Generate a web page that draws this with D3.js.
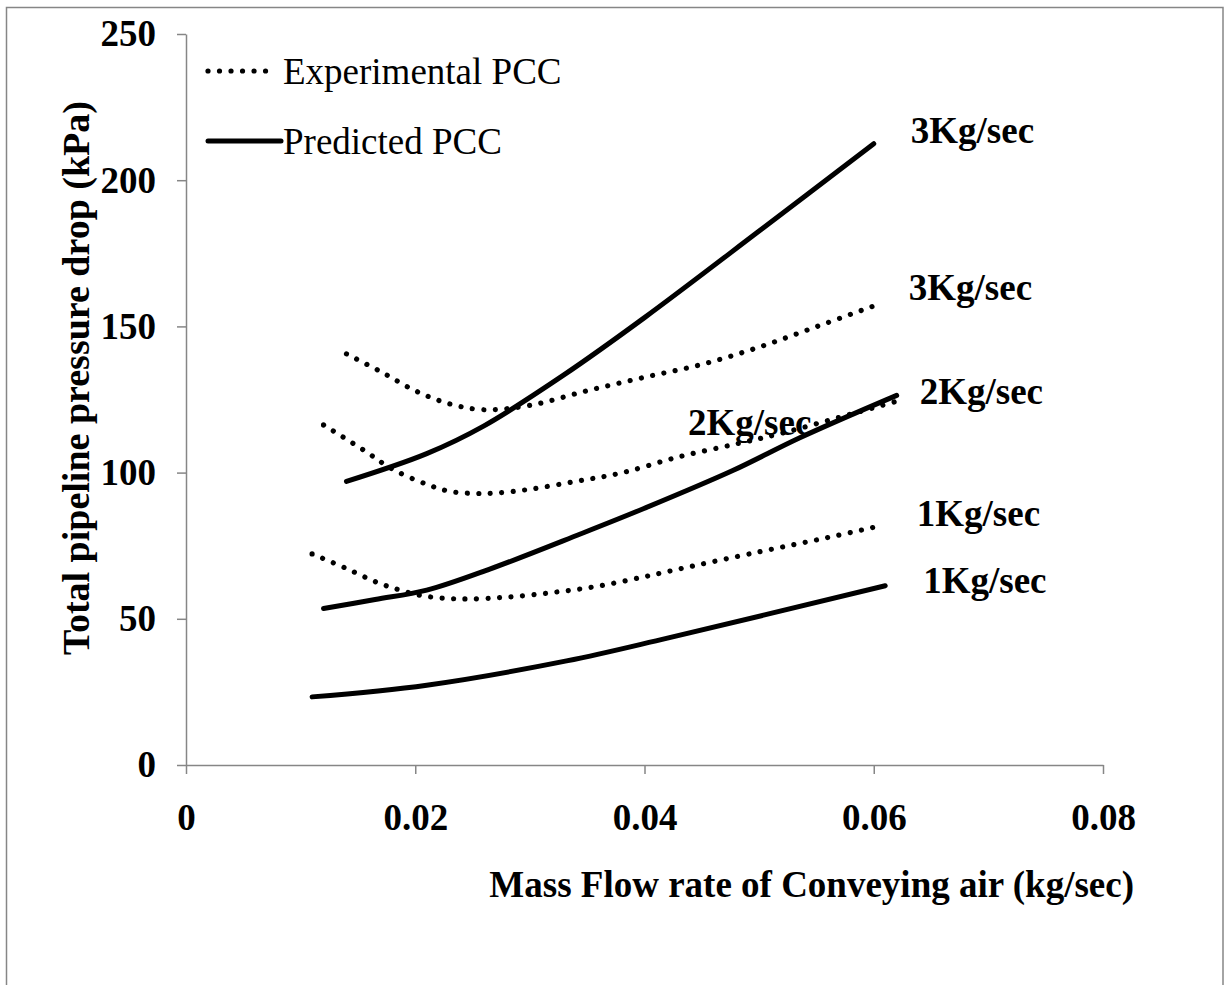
<!DOCTYPE html>
<html>
<head>
<meta charset="utf-8">
<script src="https://cdn.jsdelivr.net/npm/d3@7"></script>
<style>
  html, body { margin: 0; padding: 0; background: #fff; }
  svg { display: block; }
  text { font-family: "Times New Roman", "Liberation Serif", serif; fill: #000; }
</style>
</head>
<body>
<svg id="chart" width="1231" height="985"></svg>
<script>
// Air mass flow rate (kg/s) and total pipeline pressure drop (kPa)
// for three solids loading rates: experimental vs predicted PCC.

const exp1X = [0.011, 0.014, 0.0167, 0.0187, 0.0206, 0.0227, 0.0248, 0.028, 0.032, 0.036, 0.040, 0.0431, 0.050, 0.056, 0.060];
const exp1Y = [72.2, 67.2, 62.4, 59.8, 57.9, 57.0, 56.8, 57.4, 59.0, 61.2, 64.4, 67.1, 72.9, 77.8, 81.3];

const exp2X = [0.012, 0.0155, 0.018, 0.021, 0.023, 0.025, 0.027, 0.030, 0.034, 0.038, 0.043, 0.048, 0.052, 0.057, 0.062];
const exp2Y = [116.3, 107.7, 101.2, 96.0, 93.6, 92.9, 93.0, 94.3, 97.0, 99.9, 105.4, 109.8, 113.5, 118.9, 124.4];

const exp3X = [0.014, 0.017, 0.020, 0.023, 0.026, 0.030, 0.035, 0.040, 0.045, 0.050, 0.055, 0.060];
const exp3Y = [140.6, 134.5, 128.0, 123.5, 121.5, 123.0, 128.0, 132.6, 137.0, 142.9, 149.9, 157.0];

const pred1X = [0.011, 0.021, 0.0332, 0.042, 0.061];
const pred1Y = [23.3, 27.3, 35.6, 43.4, 61.3];

const pred2X = [0.012, 0.0165, 0.021, 0.0265, 0.0344, 0.040, 0.0477, 0.0536, 0.062];
const pred2Y = [53.5, 56.6, 59.8, 67.0, 79.0, 87.8, 100.7, 112.0, 126.4];

const pred3X = [0.014, 0.021, 0.026, 0.033, 0.040, 0.050, 0.060];
const pred3Y = [97.0, 106.5, 116.0, 133.5, 153.0, 182.6, 212.5];

const xTicks = [0, 0.02, 0.04, 0.06, 0.08];
const yTicks = [0, 50, 100, 150, 200, 250];

const legendNames = ["Experimental PCC", "Predicted PCC"];
const xTitle = "Mass Flow rate of Conveying air (kg/sec)";
const yTitle = "Total pipeline pressure drop (kPa)";

const series = [
  { name: "1Kg/sec", kind: "exp",  xs: exp1X,  ys: exp1Y },
  { name: "2Kg/sec", kind: "exp",  xs: exp2X,  ys: exp2Y },
  { name: "3Kg/sec", kind: "exp",  xs: exp3X,  ys: exp3Y },
  { name: "1Kg/sec", kind: "pred", xs: pred1X, ys: pred1Y },
  { name: "2Kg/sec", kind: "pred", xs: pred2X, ys: pred2Y },
  { name: "3Kg/sec", kind: "pred", xs: pred3X, ys: pred3Y }
];

const svg = d3.select("#chart");
const AXIS = "#868686";
const FONT = 37;

// outer frame
svg.append("rect")
  .attr("x", 6.5).attr("y", 7.5)
  .attr("width", 1216.5).attr("height", 1000)
  .attr("fill", "none").attr("stroke", AXIS).attr("stroke-width", 1.5);

const x = d3.scaleLinear().domain([0, 0.08]).range([186, 1103]);
const y = d3.scaleLinear().domain([0, 250]).range([765, 34]);

// axes
const yAxis = d3.axisLeft(y).tickValues(yTicks).tickFormat(d3.format("d"))
  .tickSize(9).tickSizeOuter(0).tickPadding(21);
const xAxis = d3.axisBottom(x).tickValues(xTicks).tickFormat(d => d === 0 ? "0" : d3.format(".2f")(d))
  .tickSize(9).tickSizeOuter(0).tickPadding(30);

const gx = svg.append("g").attr("transform", `translate(0,${y(0)})`).call(xAxis);
const gy = svg.append("g").attr("transform", `translate(${x(0)},0)`).call(yAxis);

[gx, gy].forEach(g => {
  g.select(".domain").attr("stroke", AXIS).attr("stroke-width", 1.5);
  g.selectAll(".tick line").attr("stroke", AXIS).attr("stroke-width", 1.5);
  g.selectAll(".tick text")
    .attr("fill", "#000")
    .style("font-family", '"Times New Roman", "Liberation Serif", serif')
    .style("font-size", FONT + "px")
    .style("font-weight", "bold");
});

// axis titles
svg.append("text")
  .attr("x", 1134).attr("y", 897)
  .attr("text-anchor", "end")
  .style("font-size", FONT + "px").style("font-weight", "bold")
  .text(xTitle);

svg.append("text")
  .attr("transform", `translate(89,378) rotate(-90)`)
  .attr("text-anchor", "middle")
  .style("font-size", "38px").style("font-weight", "bold")
  .text(yTitle);

// curves
const line = d3.line()
  .x(d => x(d[0])).y(d => y(d[1]))
  .curve(d3.curveCatmullRom.alpha(0.5));

const styleLine = (sel, kind) => {
  sel.attr("fill", "none").attr("stroke", "#000").attr("stroke-linecap", "round");
  if (kind === "exp") {
    sel.attr("stroke-width", 5.2).attr("stroke-dasharray", "0.01 11.5");
  } else {
    sel.attr("stroke-width", 5).attr("stroke-linejoin", "round");
  }
};

const plot = svg.append("g");
series.forEach(s => {
  const pts = s.xs.map((v, i) => [v, s.ys[i]]);
  plot.append("path").datum(pts).attr("d", line).call(styleLine, s.kind);
});

// series labels, placed beside the curve ends
const labelOffsets = [
  { idx: 0, dx: 43, dy: -1 },
  { idx: 2, dx: 35, dy: -6 },
  { idx: 3, dx: 38, dy: 7 },
  { idx: 4, dx: 23, dy: 9 },
  { idx: 5, dx: 37, dy: -1 }
];
const labels = svg.append("g")
  .style("font-size", FONT + "px").style("font-weight", "bold");
labelOffsets.forEach(o => {
  const s = series[o.idx];
  const n = s.xs.length - 1;
  labels.append("text")
    .attr("x", x(s.xs[n]) + o.dx)
    .attr("y", y(s.ys[n]) + o.dy)
    .text(s.name);
});
// label sitting on the experimental 2 kg/s curve
{
  const s = series[1];
  labels.append("text")
    .attr("x", x(0.0438))
    .attr("y", y(s.ys[10]) - 22)
    .text(s.name);
}

// legend
const lg = svg.append("g");
lg.append("line")
  .attr("x1", 208).attr("x2", 268).attr("y1", 71).attr("y2", 71)
  .call(styleLine, "exp");
lg.append("text").attr("x", 283).attr("y", 84)
  .style("font-size", FONT + "px").text(legendNames[0]);
lg.append("line")
  .attr("x1", 208).attr("x2", 281).attr("y1", 141).attr("y2", 141)
  .call(styleLine, "pred");
lg.append("text").attr("x", 283).attr("y", 154)
  .style("font-size", FONT + "px").text(legendNames[1]);
</script>
</body>
</html>
